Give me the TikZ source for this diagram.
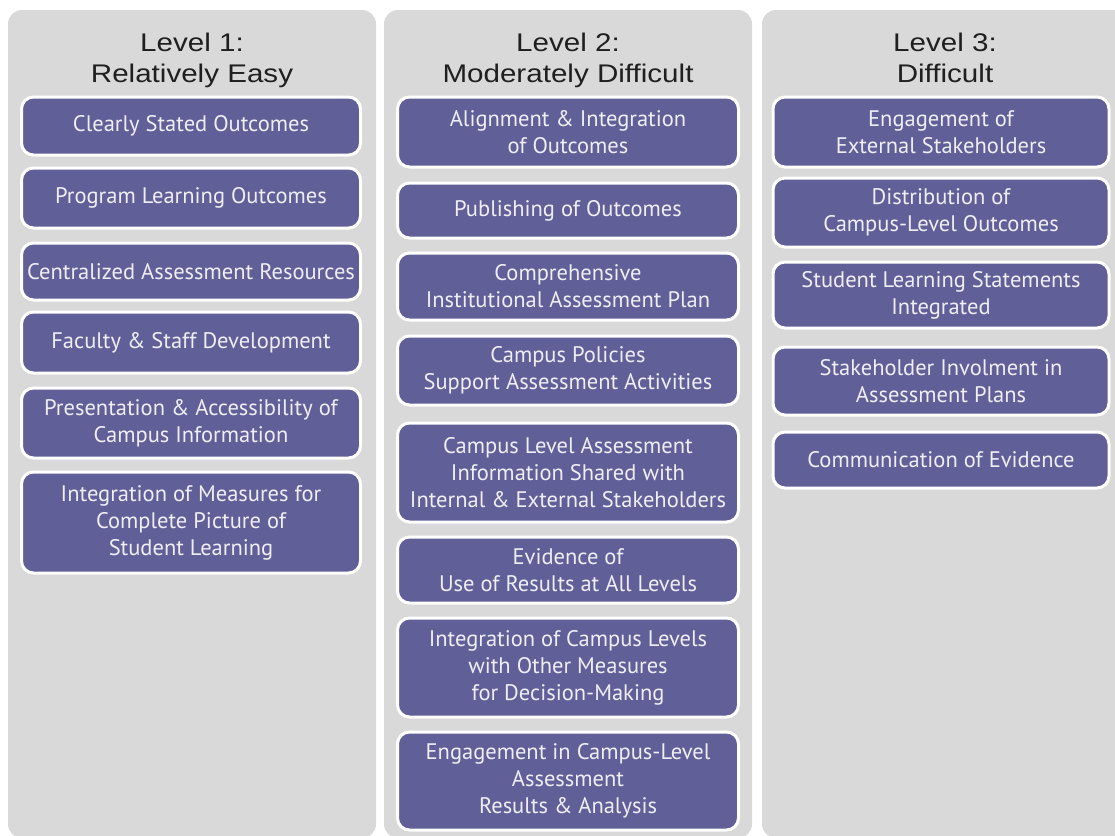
\documentclass[tikz,border=0pt]{standalone}
\usepackage{fontspec}
\setmainfont[FakeStretch=1.16]{Liberation Sans}
\newfontfamily\boxfont{PT Sans}
\definecolor{colgray}{RGB}{217,217,217}
\definecolor{boxpurple}{RGB}{97,95,152}
\definecolor{boxtext}{RGB}{238,238,244}
\begin{document}
\begin{tikzpicture}[x=1pt,y=-1pt,
  column/.style={fill=colgray, rounded corners=14pt},
  itembox/.style={draw=white, line width=3pt, fill=boxpurple, rounded corners=12pt,
    text=boxtext, font=\boxfont\fontsize{22.5}{27}\selectfont, align=center, inner sep=0pt},
  w1/.style={minimum width=339pt},
  w2/.style={minimum width=341pt},
  w3/.style={minimum width=336pt},
  title/.style={font=\fontsize{25.5}{31}\selectfont, align=center, text=black!88,
    inner sep=0pt, anchor=north}]
\useasboundingbox (0,0) rectangle (1115,835);
\fill[white] (0,0) rectangle (1115,835);
\begin{scope}
\clip (0,0) rectangle (1115,835);
\fill[column] (8,10) rectangle (376,838);
\fill[column] (384,10) rectangle (752,838);
\fill[column] (762,10) rectangle (1135,838);
\end{scope}
% titles
\node[title] (t1) at (192,33) {Level 1:\\Relatively Easy};
\node[title] (t2) at (568,33) {Level 2:\\Moderately Difficult};
\node[title] (t3) at (945,33) {Level 3:\\Difficult};
% column 1
\node[itembox, w1, minimum height=58pt] (c1a) at (191,126) {Clearly Stated Outcomes};
\node[itembox, w1, minimum height=60pt] (c1b) at (191,198) {Program Learning Outcomes};
\node[itembox, w1, minimum height=57pt] (c1c) at (191,271.5) {Centralized Assessment Resources};
\node[itembox, w1, minimum height=61pt] (c1d) at (191,342.5) {Faculty \& Staff Development};
\node[itembox, w1, minimum height=70pt] (c1e) at (191,423) {Presentation \& Accessibility of\\Campus Information};
\node[itembox, w1, minimum height=101pt] (c1f) at (191,522.5) {Integration of Measures for\\Complete Picture of\\Student Learning};
% column 2
\node[itembox, w2, minimum height=70pt] (c2a) at (568,132) {Alignment \& Integration\\of Outcomes};
\node[itembox, w2, minimum height=55pt] (c2b) at (568,210.5) {Publishing of Outcomes};
\node[itembox, w2, minimum height=67pt] (c2c) at (568,286.5) {Comprehensive\\Institutional Assessment Plan};
\node[itembox, w2, minimum height=69pt] (c2d) at (568,370.5) {Campus Policies\\Support Assessment Activities};
\node[itembox, w2, minimum height=99pt] (c2e) at (568,472.5) {Campus Level Assessment\\Information Shared with\\Internal \& External Stakeholders};
\node[itembox, w2, minimum height=66pt] (c2f) at (568,570) {Evidence of\\Use of Results at All Levels};
\node[itembox, w2, minimum height=99pt] (c2g) at (568,667.5) {Integration of Campus Levels\\with Other Measures\\for Decision-Making};
\node[itembox, w2, minimum height=98pt] (c2h) at (568,781) {Engagement in Campus-Level\\Assessment\\Results \& Analysis};
% column 3
\node[itembox, w3, minimum height=70pt] (c3a) at (941,132) {Engagement of\\External Stakeholders};
\node[itembox, w3, minimum height=69pt] (c3b) at (941,212.5) {Distribution of\\Campus-Level Outcomes};
\node[itembox, w3, minimum height=66pt] (c3c) at (941,295) {Student Learning Statements\\Integrated};
\node[itembox, w3, minimum height=68pt] (c3d) at (941,381) {Stakeholder Involment in\\Assessment Plans};
\node[itembox, w3, minimum height=56pt] (c3e) at (941,460) {Communication of Evidence};
\end{tikzpicture}
\end{document}
